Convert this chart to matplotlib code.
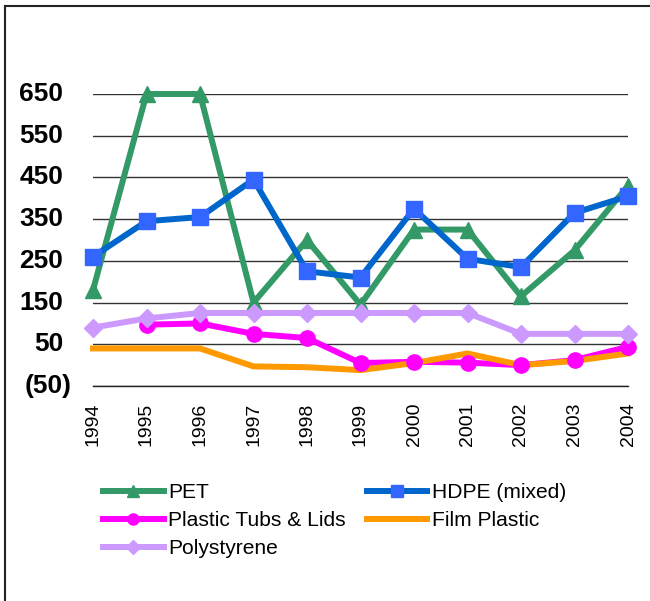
import matplotlib
matplotlib.use("Agg")
import matplotlib.pyplot as plt
from matplotlib.lines import Line2D
import matplotlib.transforms as mtransforms

years = [1994, 1995, 1996, 1997, 1998, 1999, 2000, 2001, 2002, 2003, 2004]
pet = [180, 650, 650, 150, 300, 145, 325, 325, 165, 275, 430]
hdpe = [260, 345, 355, 445, 225, 210, 375, 255, 235, 365, 405]
tubs = [None, 97, 100, 75, 65, 5, 8, 6, 0, 12, 44]
film = [40, 40, 40, -3, -5, -12, 5, 28, 0, 10, 28]
polystyrene = [90, 112, 125, 125, 125, 125, 125, 125, 75, 75, 75]
yticks = [650, 550, 450, 350, 250, 150, 50, -50]
ytick_labels = ["650", "550", "450", "350", "250", "150", "50", "(50)"]

plt.rcParams['font.family'] = ['Liberation Sans', 'DejaVu Sans']

fig = plt.figure(figsize=(6.5, 6.01), dpi=100)
W, H = 650, 601
ax = fig.add_axes([93 / W, 1 - 386 / H, (628 - 93) / W, (386 - 94) / H])

lw = 4.3
c_pet = '#339966'
c_hdpe_line = '#0066CC'
c_hdpe_mark = '#3366FF'
c_tubs = '#FF00FF'
c_film = '#FF9900'
c_poly = '#CC99FF'

ty = [y for y, v in zip(years, tubs) if v is not None]
tv = [v for v in tubs if v is not None]

ax.plot(years, pet, color=c_pet, lw=lw, marker='^', ms=11, mfc=c_pet, mec=c_pet, clip_on=False, zorder=3)
ax.plot(years, hdpe, color=c_hdpe_line, lw=lw, marker='s', ms=11.5, mfc=c_hdpe_mark, mec=c_hdpe_mark, clip_on=False, zorder=4)
ax.plot(ty, tv, color=c_tubs, lw=lw, clip_on=False, zorder=5)
ax.plot(years, film, color=c_film, lw=lw, clip_on=False, zorder=6)
ax.plot(ty, tv, color=c_tubs, lw=0, marker='o', ms=11, mfc=c_tubs, mec=c_tubs, clip_on=False, zorder=7)
ax.plot(years, polystyrene, color=c_poly, lw=lw, marker='D', ms=9.5, mfc=c_poly, mec=c_poly, clip_on=False, zorder=8)

ax.set_xlim(1994, 2004)
ax.set_ylim(-50, 650)
ax.set_yticks(yticks)
ax.set_yticklabels([])
ax.yaxis.grid(True, color='#333333', lw=1)
ax.set_axisbelow(True)
for s in ['left', 'right', 'top']:
    ax.spines[s].set_visible(False)
ax.spines['bottom'].set_color('#222222')
ax.spines['bottom'].set_linewidth(1)
ax.tick_params(axis='both', length=0)
ax.set_xticks(years)
ax.set_xticklabels([str(y) for y in years], rotation=90, fontsize=14, va='top', ha='center')
ax.tick_params(axis='x', pad=12)

trans = mtransforms.blended_transform_factory(ax.transAxes, ax.transData)
for v, lab in zip(yticks, ytick_labels):
    off = 0 if lab.startswith('(') else -9
    ax.text(0, v, lab, transform=trans + mtransforms.ScaledTranslation((-21 + off) / 100, 0, fig.dpi_scale_trans),
            ha='right', va='center', fontsize=19, fontweight='bold')

handles = [
    Line2D([], [], color=c_pet, lw=lw, marker='^', ms=8, mfc=c_pet, mec=c_pet),
    Line2D([], [], color=c_tubs, lw=lw, marker='o', ms=8, mfc=c_tubs, mec=c_tubs),
    Line2D([], [], color=c_poly, lw=lw, marker='D', ms=7, mfc=c_poly, mec=c_poly),
    Line2D([], [], color=c_hdpe_line, lw=lw, marker='s', ms=9, mfc=c_hdpe_mark, mec=c_hdpe_mark),
    Line2D([], [], color=c_film, lw=lw),
]
labels = ['PET', 'Plastic Tubs & Lids', 'Polystyrene', 'HDPE (mixed)', 'Film Plastic']
fig.legend(handles, labels, ncol=2, loc='upper left', bbox_to_anchor=(103 / W, 1 - 483.5 / H),
           frameon=False, fontsize=15.1, handlelength=2.9, handletextpad=0.2, columnspacing=1.0,
           labelspacing=0.42, borderpad=0, borderaxespad=0)

# outer frame (top and left edges)
fig.add_artist(Line2D([4.5 / W, 4.5 / W], [0, 1 - 5.5 / H], transform=fig.transFigure, color='#222222', lw=1.5))
fig.add_artist(Line2D([4.5 / W, 1], [1 - 5.5 / H, 1 - 5.5 / H], transform=fig.transFigure, color='#222222', lw=1.5))

fig.savefig('out.png', dpi=100)
